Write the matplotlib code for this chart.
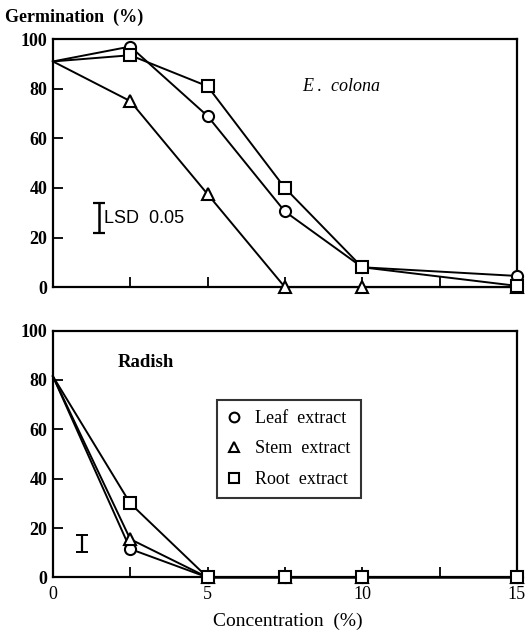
import matplotlib
matplotlib.use("Agg")
import matplotlib.pyplot as plt
from matplotlib.lines import Line2D
from matplotlib.ticker import MultipleLocator

# Data
concentration = [0, 2.5, 5, 7.5, 10, 15]

colona_leaf = [91, 97, 69, 30.5, 8, 4.5]
colona_stem = [91, 75, 37.5, 0, 0, 0]
colona_root = [91, 93.5, 81, 40, 8, 0.5]

radish_leaf = [81.5, 11.5, 0, 0, 0, 0]
radish_stem = [81.5, 15.5, 0, 0, 0, 0]
radish_root = [81.5, 30, 0, 0, 0, 0]

# LSD 0.05 bars: (x, centre, half length)
lsd_colona = (1.5, 28, 6)
lsd_radish = (0.93, 13.8, 3.4)

series_labels = ["Leaf  extract", "Stem  extract", "Root  extract"]
series_markers = ["o", "^", "s"]
y_ticks = [0, 20, 40, 60, 80, 100]
x_ticks = [0, 5, 10, 15]

SERIF = "Liberation Serif"
SANS = "Liberation Sans"


def style_axes(ax, show_xlabels):
    ax.set_xlim(0, 15)
    ax.set_ylim(0, 100)
    ax.set_yticks(y_ticks)
    ax.set_xticks(x_ticks)
    ax.xaxis.set_minor_locator(MultipleLocator(2.5))
    ax.tick_params(which="both", direction="in", length=7, width=1.3)
    ax.tick_params(axis="y", labelsize=13, pad=4)
    for lab in ax.get_yticklabels():
        lab.set_fontfamily(SERIF)
        lab.set_fontweight("bold")
    if show_xlabels:
        ax.tick_params(axis="x", labelsize=13, pad=6)
        for lab in ax.get_xticklabels():
            lab.set_fontfamily(SERIF)
    else:
        ax.tick_params(axis="x", labelbottom=False)
    for sp in ax.spines.values():
        sp.set_linewidth(1.6)


def draw_series(ax, ys):
    # no marker at the control (x = 0)
    for y, m in zip(ys, series_markers):
        ax.plot(concentration, y, color="black", lw=1.4, marker=m,
                markevery=slice(1, None),
                markersize=8 if m != "^" else 8.5, markerfacecolor="white",
                markeredgecolor="black", markeredgewidth=1.5, clip_on=False,
                zorder=3)


fig = plt.figure(figsize=(5.29, 6.31), dpi=100)
ax1 = fig.add_axes([0.100, 0.545, 0.877, 0.393])
ax2 = fig.add_axes([0.100, 0.085, 0.877, 0.391])

# Top panel: E. colona
draw_series(ax1, [colona_leaf, colona_stem, colona_root])
style_axes(ax1, show_xlabels=False)
ax1.errorbar([lsd_colona[0]], [lsd_colona[1]], yerr=[lsd_colona[2]],
             fmt="none", ecolor="black", elinewidth=1.8, capsize=4, capthick=1.6)
ax1.text(1.66, 27.8, "LSD  0.05", fontsize=13, family=SANS, va="center", ha="left")
ax1.text(8.05, 81, "E .  colona", fontsize=13, family=SERIF, style="italic",
         va="center", ha="left")

# Bottom panel: Radish
draw_series(ax2, [radish_leaf, radish_stem, radish_root])
style_axes(ax2, show_xlabels=True)
ax2.errorbar([lsd_radish[0]], [lsd_radish[1]], yerr=[lsd_radish[2]],
             fmt="none", ecolor="black", elinewidth=1.6, capsize=4, capthick=1.4)
ax2.text(2.1, 87, "Radish", fontsize=13.5, family=SERIF, fontweight="bold",
         va="center", ha="left")

handles = [Line2D([], [], linestyle="none", marker=m, markersize=7,
                  markerfacecolor="white", markeredgecolor="black",
                  markeredgewidth=1.5) for m in series_markers]
leg = ax2.legend(handles, series_labels, loc="upper left",
                 bbox_to_anchor=(0.353, 0.719), borderaxespad=0,
                 frameon=True, fancybox=False,
                 handlelength=0.8, handletextpad=0.8, borderpad=0.55,
                 labelspacing=0.75, prop={"family": SERIF, "size": 13})
leg.get_frame().set_edgecolor("black")
leg.get_frame().set_linewidth(1.5)

fig.text(0.01, 0.972, "Germination  (%)", fontsize=13, family=SERIF,
         fontweight="bold", va="center", ha="left")
fig.text(0.545, 0.015, "Concentration  (%)", fontsize=14, family=SERIF,
         va="center", ha="center")

fig.savefig("out.png", dpi=100, facecolor="white")
